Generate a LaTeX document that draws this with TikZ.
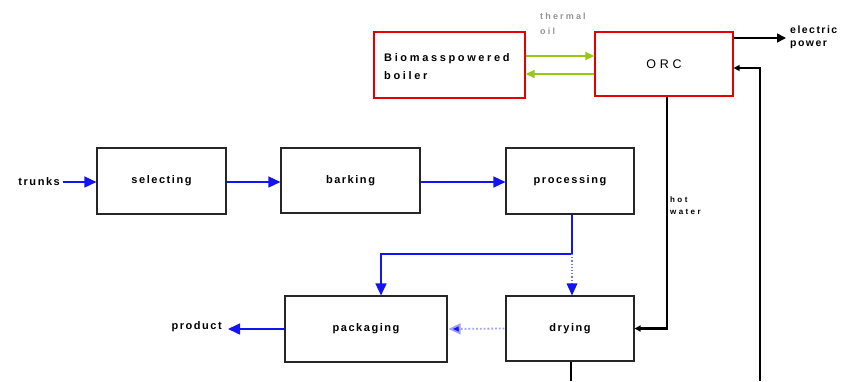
\documentclass[tikz,border=0pt]{standalone}
\usepackage{fontspec}
\setmainfont{Liberation Sans}[LetterSpace=14]
\newfontfamily\widefont{Liberation Sans}[LetterSpace=24]
\newfontfamily\xwidefont{Liberation Sans}[LetterSpace=30]
\usetikzlibrary{arrows.meta,shadows}
\definecolor{oilgreen}{RGB}{150,200,20}
\definecolor{flowblue}{RGB}{20,20,240}
\definecolor{lightblue}{RGB}{160,160,250}
\tikzset{
  procbox/.style={draw=black!85, line width=1.1pt, fill=white, minimum width=#1, inner sep=0pt,
    drop shadow={shadow xshift=1pt, shadow yshift=-1pt, fill=black!45, opacity=1},
    font=\bfseries\fontsize{11}{13}\selectfont},
  redbox/.style={draw=red!90!black, line width=1.3pt, fill=white, inner sep=0pt},
  lbl/.style={font=\bfseries\fontsize{11}{13}\selectfont, inner sep=0pt},
  blueflow/.style={draw=flowblue, line width=1.5pt, -{Triangle[length=12pt,width=11pt]}},
  bluedot/.style={draw=flowblue!60, line width=1.2pt, dotted},
  greenflow/.style={draw=oilgreen, line width=1.4pt, -{Triangle[length=9pt,width=8pt]}},
  heavy/.style={draw=black, line width=2.8pt},
  heavyarrow/.style={heavy, -{Triangle[length=6pt,width=6pt]}},
}
\begin{document}
\begin{tikzpicture}[x=1pt,y=-1pt]
\useasboundingbox (0,0) rectangle (843,381);
% red boxes
\node[redbox, minimum width=151pt, minimum height=66pt] (boiler) at (449.5,65) {};
\node[lbl, align=left, anchor=west, font=\bfseries\widefont\fontsize{11}{18}\selectfont] (boilertxt) at (384,67) {Biomasspowered\\boiler};
\node[redbox, minimum width=138pt, minimum height=64pt, font=\xwidefont\fontsize{12.5}{14}\selectfont] (orc) at (664,64) {ORC\hspace{4pt}};
% process boxes
\node[procbox=129pt, minimum height=66pt] (sel) at (161.5,181) {selecting};
\node[procbox=139pt, minimum height=65pt] (bark) at (350.5,180.5) {barking};
\node[procbox=128pt, minimum height=66pt] (proc) at (570,181) {processing\hspace{6pt}};
\node[procbox=162pt, minimum height=66pt] (pack) at (366,329) {packaging};
\node[procbox=128pt, minimum height=65pt] (dry) at (570,328.5) {drying};
% labels
\node[lbl, anchor=east] (trunks) at (60,182) {trunks};
\node[lbl, anchor=east] (product) at (222,327) {product};
\node[anchor=west, align=left, text=black!42, inner sep=0pt, font=\bfseries\widefont\fontsize{9}{15}\selectfont] (oil) at (540,23.5) {thermal\\oil};
\node[lbl, anchor=west, align=left, font=\bfseries\fontsize{10.5}{13}\selectfont] (elec) at (790,37) {electric\\power};
\node[lbl, anchor=west, align=left, font=\bfseries\xwidefont\fontsize{8}{12}\selectfont] (hot) at (670,206) {hot\\water};
% coordinates
\coordinate (elecend) at (786,38);
\coordinate (retbot) at (760,381);
\coordinate (split) at (572,254);
\coordinate (drybot) at (571,381);
\coordinate (rowy) at (0,182);
% thermal oil
\draw[greenflow] ([yshift=9pt]boiler.east) -- ([yshift=9pt]boiler.east -| orc.west);
\draw[greenflow] ([yshift=-9pt]boiler.east -| orc.west) -- ([yshift=-9pt]boiler.east);
% electric power
\draw[black, line width=1.6pt, -{Triangle[length=9pt,width=9pt]}] ([yshift=26pt]orc.east) -- (elecend);
% return line
\draw[heavyarrow] (retbot) |- ([yshift=-4pt]orc.east);
% hot water
\draw[heavyarrow] ([xshift=3pt]orc.south) |- (dry.east);
\draw[heavy] (dry.south -| drybot) -- (drybot);
% main flow
\draw[blueflow] ([xshift=3pt]trunks.east) -- (trunks.east -| sel.west);
\draw[blueflow] (sel.east |- rowy) -- (bark.west |- rowy);
\draw[blueflow] (bark.east |- rowy) -- (proc.west |- rowy);
\draw[blueflow] (proc.south -| split) -- (split) -| ([xshift=15pt]pack.north);
\draw[bluedot] (split) -- (dry.north -| split);
\fill[flowblue] (dry.north -| split) -- ++(-5.5,-12) -- ++(11,0) -- cycle;
\draw[draw=lightblue, line width=1.8pt, dotted, -{Triangle[length=12pt,width=11pt,fill=flowblue]}] ([xshift=-1pt]dry.west) -- ([xshift=1pt]pack.east);
\draw[blueflow] (pack.west) -- ([xshift=6pt]pack.west -| product.east);
\end{tikzpicture}
\end{document}
